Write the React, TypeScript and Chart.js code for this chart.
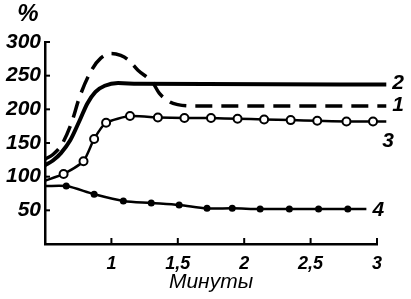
import React, { useEffect, useRef } from "react";
import { Chart, registerables } from "chart.js";
Chart.register(...registerables);

const xTickValues = [1, 1.5, 2, 2.5, 3];
const yTickValues = [50, 100, 150, 200, 250, 300];
const xTitle = "Минуты";
const yUnit = "%";
const seriesNames = ["1", "2", "3", "4"];

// Curve 1 (dashed)
const s1x = [0.5, 0.56, 0.63, 0.7, 0.76, 0.85, 0.92, 1.0, 1.07, 1.13, 1.2, 1.31, 1.36, 1.44, 1.5, 1.6, 2.0, 3.07];
const s1y = [126, 133, 149, 180, 218, 258, 276, 283, 280, 273, 258, 240, 224, 211, 207, 205, 205, 205];
// Curve 2 (solid)
const s2x = [0.5, 0.56, 0.62, 0.69, 0.76, 0.82, 0.88, 0.95, 1.05, 1.2, 3.07];
const s2y = [117, 124, 135, 154, 183, 209, 226, 235, 239, 238, 237];
// Curve 3 (open circles)
const s3x = [0.5, 0.64, 0.79, 0.87, 0.96, 1.14, 1.35, 1.55, 1.75, 1.95, 2.15, 2.35, 2.55, 2.77, 2.97, 3.07];
const s3y = [94, 104, 123, 156, 180, 190, 188, 187, 187, 186, 185, 184, 183, 182, 182, 182];
// Curve 4 (filled dots)
const s4x = [0.5, 0.66, 0.87, 1.09, 1.3, 1.51, 1.72, 1.91, 2.12, 2.34, 2.56, 2.78, 2.92];
const s4y = [86, 86, 74, 64, 61, 58, 53, 53, 52, 52, 52, 52, 52];

const toPts = (xs: number[], ys: number[]) => xs.map((x, i) => ({ x, y: ys[i] }));

const FONT = "'Liberation Sans', 'DejaVu Sans', sans-serif";

export default function App() {
  const ref = useRef<HTMLCanvasElement>(null);
  useEffect(() => {
    document.body.style.margin = "0";
    const canvas = ref.current!;
    const labelOffsets = [
      [6, -1],
      [6, -1],
      [-4, 20],
      [6, 1],
    ];
    const extras = {
      id: "extras",
      afterDraw(chart: any) {
        const ctx = chart.ctx;
        const { left, bottom, top } = chart.chartArea;
        const xs = chart.scales.x;
        const ys = chart.scales.y;
        ctx.save();
        ctx.strokeStyle = "#000";
        ctx.lineWidth = 2;
        ys.ticks.forEach((t: any) => {
          if (!yTickValues.includes(t.value)) return;
          const py = ys.getPixelForValue(t.value);
          ctx.beginPath();
          ctx.moveTo(left, py);
          ctx.lineTo(left + 5, py);
          ctx.stroke();
        });
        xs.ticks.forEach((t: any) => {
          if (!xTickValues.includes(t.value)) return;
          const px = xs.getPixelForValue(t.value);
          ctx.beginPath();
          ctx.moveTo(px, bottom);
          ctx.lineTo(px, bottom - 6);
          ctx.stroke();
        });
        ctx.fillStyle = "#000";
        ctx.font = `italic bold 24px ${FONT}`;
        ctx.textAlign = "center";
        ctx.textBaseline = "middle";
        ctx.fillText(yUnit, left - 17, top - 28);
        ctx.font = `italic bold 21px ${FONT}`;
        chart.data.datasets.forEach((ds: any, i: number) => {
          const meta = chart.getDatasetMeta(i);
          const last = meta.data[meta.data.length - 1];
          ctx.textAlign = "left";
          ctx.fillText(seriesNames[i], last.x + labelOffsets[i][0], last.y + labelOffsets[i][1]);
        });
        ctx.restore();
      },
    };
    const chart = new Chart(canvas, {
      type: "line",
      data: {
        datasets: [
          {
            label: seriesNames[0],
            data: toPts(s1x, s1y),
            borderColor: "#000",
            borderWidth: 3.5,
            borderDash: [17, 9],
            pointRadius: 0,
            cubicInterpolationMode: "monotone",
            clip: false,
          },
          {
            label: seriesNames[1],
            data: toPts(s2x, s2y),
            borderColor: "#000",
            borderWidth: 4,
            pointRadius: 0,
            cubicInterpolationMode: "monotone",
            clip: false,
          },
          {
            label: seriesNames[2],
            data: toPts(s3x, s3y),
            borderColor: "#000",
            borderWidth: 2.5,
            pointRadius: s3x.map((_, i) => (i === 0 || i === s3x.length - 1 ? 0 : 4)),
            pointBackgroundColor: "#fff",
            pointBorderColor: "#000",
            pointBorderWidth: 2,
            tension: 0.2,
            clip: false,
          },
          {
            label: seriesNames[3],
            data: toPts(s4x, s4y),
            borderColor: "#000",
            borderWidth: 2.5,
            pointRadius: s4x.map((_, i) => (i === 0 || i === s4x.length - 1 ? 0 : 3.5)),
            pointBackgroundColor: "#000",
            pointBorderColor: "#000",
            pointBorderWidth: 0,
            tension: 0.3,
            clip: false,
          },
        ],
      },
      options: {
        animation: false,
        responsive: false,
        layout: { padding: { top: 42, right: 34, left: 0, bottom: 0 } },
        plugins: { legend: { display: false }, tooltip: { enabled: false } },
        scales: {
          x: {
            type: "linear",
            min: 0.5,
            max: 3,
            grid: { display: false, drawTicks: false },
            border: { display: true, color: "#000", width: 2.5 },
            ticks: {
              stepSize: 0.5,
              color: "#000",
              padding: 9,
              font: { family: FONT, size: 18, style: "italic", weight: "bold" },
              callback: (v: any) => (xTickValues.includes(Number(v)) ? String(v).replace(".", ",") : ""),
            },
            title: {
              display: true,
              text: xTitle,
              color: "#000",
              padding: { top: 0, bottom: 4 },
              font: { family: FONT, size: 21, style: "italic" },
            },
            afterFit: (s: any) => {
              s.height = 55;
            },
          },
          y: {
            min: 0,
            max: 300,
            grid: { display: false, drawTicks: false },
            border: { display: true, color: "#000", width: 2.5 },
            ticks: {
              stepSize: 50,
              color: "#000",
              padding: 4,
              font: { family: FONT, size: 21, style: "italic", weight: "bold" },
              callback: (v: any) => (yTickValues.includes(Number(v)) ? String(v) : ""),
            },
            afterFit: (s: any) => {
              s.width = 45;
            },
          },
        },
      },
      plugins: [extras],
    } as any);
    return () => chart.destroy();
  }, []);
  return <canvas ref={ref} width={411} height={299} style={{ width: 411, height: 299, display: "block" }} />;
}
